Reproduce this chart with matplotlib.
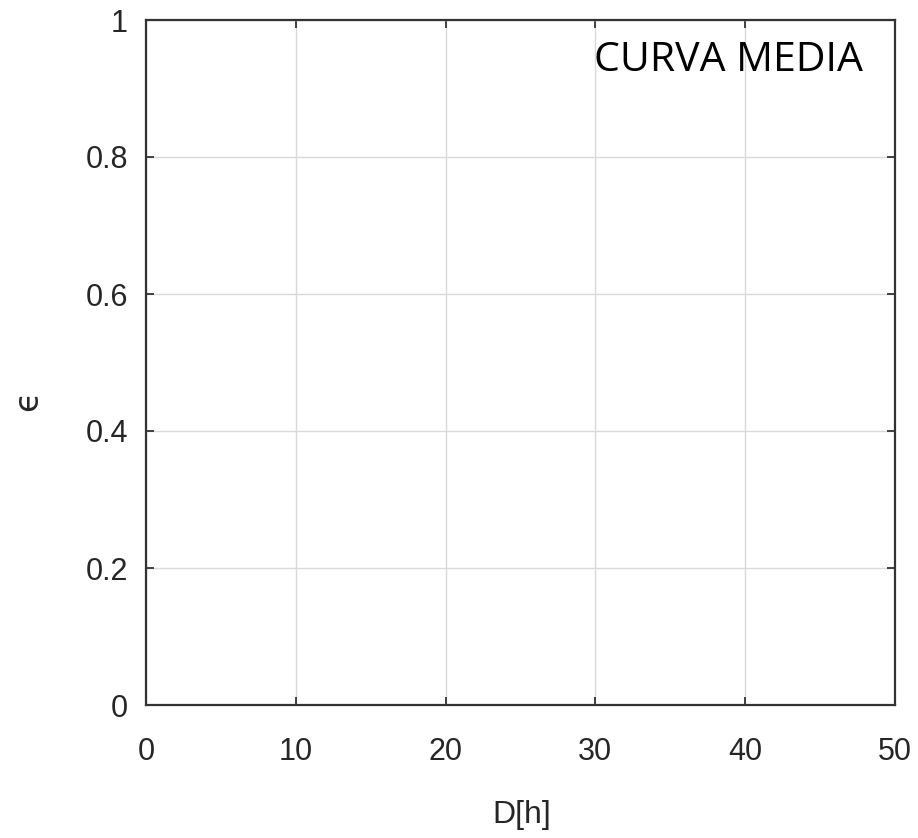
import matplotlib
matplotlib.use("Agg")
import matplotlib.pyplot as plt

xticks = [0, 10, 20, 30, 40, 50]
yticks = [0, 0.2, 0.4, 0.6, 0.8, 1]
ytick_labels = ["0", "0.2", "0.4", "0.6", "0.8", "1"]
title_text = "CURVA MEDIA"
xlabel_text = "D[h]"
ylabel_text = "\u03f5"

plt.rcParams['font.family'] = ['Liberation Sans', 'DejaVu Sans']

fig = plt.figure(figsize=(9.18, 8.38), dpi=100)
W, H = 918, 838
ax = fig.add_axes([146 / W, 1 - 705 / H, (895 - 146) / W, (705 - 20) / H])
ax.set_xlim(0, 50)
ax.set_ylim(0, 1)
ax.set_xticks(xticks)
ax.set_yticks(yticks)
ax.set_yticklabels(ytick_labels)
ax.grid(True, color='#d9d9d9', linewidth=1.0)
ax.set_axisbelow(True)
for s in ax.spines.values():
    s.set_color('#333333')
    s.set_linewidth(1.6)
ax.tick_params(direction='in', length=6, width=1.3, color='#333333',
               top=True, right=True, labelsize=22, labelcolor='#262626')
ax.tick_params(axis='y', pad=13)
ax.tick_params(axis='x', pad=23)
fig.text(522 / W, 1 - 815 / H, xlabel_text, ha='center', va='center',
         fontsize=23, color='#262626')
fig.text(28 / W, 1 - 401 / H, ylabel_text, ha='center', va='center',
         rotation=90, fontsize=24, color='#262626', family=['DejaVu Sans'])
ax.text(0.957, 0.941, title_text, transform=ax.transAxes, ha='right', va='center',
        fontsize=29.5, family=['Open Sans', 'DejaVu Sans'], color='black')
fig.savefig('out.png', dpi=100)
